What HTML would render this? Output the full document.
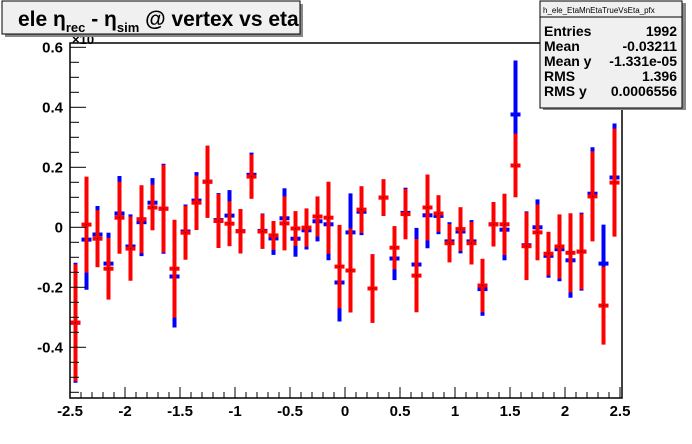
<!DOCTYPE html>
<html><head><meta charset="utf-8"><style>
html,body{margin:0;padding:0;background:#fff;}
svg{display:block;font-family:"Liberation Sans",sans-serif;}
</style></head><body>
<svg id="chart" width="692" height="444" viewBox="0 0 692 444">
<rect x="0" y="0" width="692" height="444" fill="#fff"/>
<g id="marks"></g>
<g id="axes"></g>
<text x="72" y="44" font-size="13" font-weight="bold">×10</text>
<g>
<rect x="5" y="4" width="298" height="33" fill="#888"/>
<rect x="2" y="1" width="298" height="33" fill="#f0f0f0" stroke="#000" stroke-width="1"/>
<text x="18" y="26" font-size="21" font-weight="bold">ele η<tspan font-size="13" dy="6">rec</tspan><tspan dy="-6"> - η</tspan><tspan font-size="13" dy="6">sim</tspan><tspan dy="-6"> @ vertex vs eta</tspan></text>
</g>
<g>
<rect x="543" y="3" width="143" height="107" fill="#888"/>
<rect x="540" y="1" width="142" height="107" fill="#f0f0f0" stroke="#000" stroke-width="1"/>
<line x1="540" y1="17" x2="682" y2="17" stroke="#000" stroke-width="1"/>
<text x="543" y="13" font-size="8">h_ele_EtaMnEtaTrueVsEta_pfx</text>
<g font-size="14" font-weight="bold">
<text x="544" y="36">Entries</text><text x="677" y="36" text-anchor="end">1992</text>
<text x="544" y="51">Mean</text><text x="677" y="51" text-anchor="end">-0.03211</text>
<text x="544" y="66">Mean y</text><text x="677" y="66" text-anchor="end">-1.331e-05</text>
<text x="544" y="81">RMS</text><text x="677" y="81" text-anchor="end">1.396</text>
<text x="544" y="96">RMS y</text><text x="677" y="96" text-anchor="end">0.0006556</text>
</g>
</g>
</svg>
<script>
const binCenters = [-2.45,-2.35,-2.25,-2.15,-2.05,-1.95,-1.85,-1.75,-1.65,-1.55,-1.45,-1.35,-1.25,-1.15,-1.05,-0.95,-0.85,-0.75,-0.65,-0.55,-0.45,-0.35,-0.25,-0.15,-0.05,0.05,0.15,0.25,0.35,0.45,0.55,0.65,0.75,0.85,0.95,1.05,1.15,1.25,1.35,1.45,1.55,1.65,1.75,1.85,1.95,2.05,2.15,2.25,2.35,2.45];
const redValues = [-0.318,0.009,-0.038,-0.138,0.032,-0.071,0.027,0.066,0.062,-0.138,-0.018,0.082,0.152,0.021,0.012,-0.013,0.169,-0.014,-0.027,0.013,-0.004,-0.001,0.036,0.032,-0.131,-0.144,0.059,-0.204,0.099,-0.068,0.044,-0.161,0.066,0.046,-0.053,-0.006,-0.053,-0.194,0.010,0.010,0.206,-0.063,-0.017,-0.088,-0.064,-0.085,-0.081,0.103,-0.261,0.149];
const redErrors = [0.195,0.16,0.095,0.103,0.12,0.107,0.113,0.076,0.146,0.163,0.09,0.091,0.12,0.09,0.075,0.074,0.074,0.058,0.048,0.09,0.058,0.064,0.067,0.12,0.139,0.14,0.078,0.114,0.061,0.072,0.084,0.122,0.11,0.061,0.064,0.073,0.071,0.089,0.074,0.102,0.106,0.113,0.093,0.073,0.107,0.132,0.126,0.15,0.13,0.18];
const blueValues = [-0.318,-0.041,-0.024,-0.121,0.046,-0.064,0.017,0.082,0.062,-0.164,-0.014,0.089,0.152,0.024,0.039,-0.013,0.175,-0.012,-0.037,0.030,-0.038,-0.010,0.020,0.010,-0.184,-0.017,0.052,-0.204,0.099,-0.104,0.048,-0.124,0.040,0.038,-0.047,-0.014,-0.047,-0.206,0.010,-0.008,0.376,-0.060,0.000,-0.095,-0.073,-0.110,-0.081,0.112,-0.121,0.166];
const blueErrors = [0.2,0.167,0.095,0.103,0.125,0.107,0.113,0.082,0.15,0.17,0.09,0.095,0.12,0.09,0.085,0.074,0.074,0.058,0.055,0.1,0.06,0.064,0.067,0.12,0.13,0.13,0.078,0.114,0.061,0.072,0.084,0.122,0.11,0.061,0.064,0.073,0.071,0.089,0.074,0.102,0.18,0.113,0.093,0.073,0.107,0.125,0.13,0.155,0.13,0.18];
const xTickLabels = ["-2.5","-2","-1.5","-1","-0.5","0","0.5","1","1.5","2","2.5"];
const yTickLabels = ["-0.4","-0.2","0","0.2","0.4","0.6"];

const X0=70, X1=620, XMIN=-2.5, XMAX=2.5;
const YZERO=227.3, YSCALE=300, TOP=43, BOTTOM=398, RIGHT=622;
const BINW=0.1;
function xs(v){return X0+(v-XMIN)/(XMAX-XMIN)*(X1-X0);}
function ys(v){return YZERO-v*YSCALE;}
const NS='http://www.w3.org/2000/svg';
function mk(tag,attrs,parent){const e=document.createElementNS(NS,tag);for(const k in attrs)e.setAttribute(k,attrs[k]);parent.appendChild(e);return e;}
const marks=document.getElementById('marks');
const axes=document.getElementById('axes');
function clampY(y){return Math.max(TOP,Math.min(BOTTOM,y));}
function drawSeries(vals,errs,color,name){
  const g=mk('g',{},marks);
  
  
  for(let i=0;i<binCenters.length;i++){
    const cx=xs(binCenters[i]);
    const cy=ys(vals[i]);
    const v=mk('line',{x1:cx,x2:cx,y1:clampY(ys(vals[i]+errs[i])),y2:clampY(ys(vals[i]-errs[i])),stroke:color,'stroke-width':4},g);
    
    
    const h=mk('line',{x1:xs(binCenters[i]-BINW/2)+0.5,x2:xs(binCenters[i]+BINW/2)-0.5,y1:cy,y2:cy,stroke:color,'stroke-width':4},g);
    
    
  }
}
drawSeries(blueValues,blueErrors,'#0000ff','blue');
drawSeries(redValues,redErrors,'#ff0000','red');
for(let i=0;i<binCenters.length;i++){
  const d=mk('rect',{x:xs(binCenters[i])-0.5,y:ys(redValues[i])-0.5,width:1,height:1,fill:'#000'},marks);
  
  
}
// frame
const fr=mk('rect',{x:X0,y:TOP,width:RIGHT-X0,height:BOTTOM-TOP,fill:'none',stroke:'#000','stroke-width':1.5},axes);


// x ticks
for(let k=0;k<=50;k++){
  const v=XMIN+k*0.1;const x=xs(v);const major=(k%5===0);
  mk('line',{x1:x,x2:x,y1:BOTTOM,y2:BOTTOM-(major?11:6),stroke:'#000','stroke-width':1},axes);
}
xTickLabels.forEach(function(t){
  const el=mk('text',{x:xs(parseFloat(t)),y:416,'font-size':15,'font-weight':'bold','text-anchor':'middle'},axes);
  el.textContent=t;
  
  
});
// y ticks
for(let k=-11;k<=12;k++){
  const v=k*0.05;const y=ys(v);if(y<TOP-0.5||y>BOTTOM)continue;const major=(k%4===0);
  mk('line',{x1:X0,x2:X0+(major?16:9),y1:y,y2:y,stroke:'#000','stroke-width':1},axes);
}
yTickLabels.forEach(function(t){
  const el=mk('text',{x:63,y:ys(parseFloat(t))+5,'font-size':15,'font-weight':'bold','text-anchor':'end'},axes);
  el.textContent=t;
  
  
});
</script>
</body></html>
